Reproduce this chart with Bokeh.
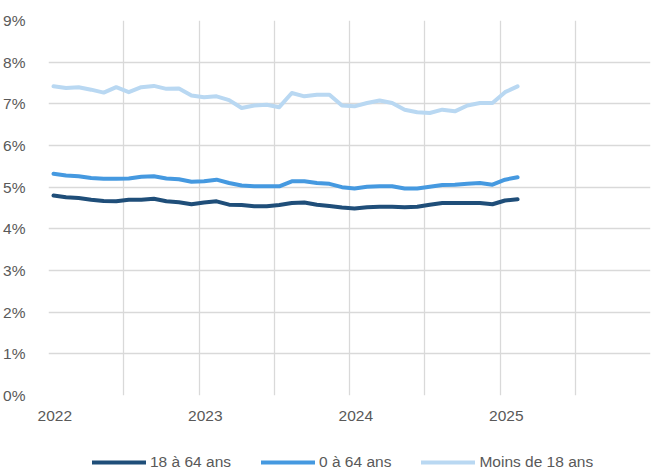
import numpy as np
from bokeh.plotting import figure
from bokeh.layouts import column
from bokeh.models import FixedTicker, Legend, LegendItem, Range1d
from bokeh.embed import file_html
from bokeh.resources import INLINE

# Monthly values, Jan 2022 .. Feb 2025 (in %)
series_names = ["18 à 64 ans", "0 à 64 ans", "Moins de 18 ans"]
adults_18_64 = [4.80, 4.76, 4.74, 4.70, 4.67, 4.66, 4.70, 4.70, 4.72, 4.66, 4.64, 4.59, 4.63,
                4.66, 4.58, 4.57, 4.54, 4.54, 4.57, 4.62, 4.63, 4.58, 4.55, 4.51, 4.49, 4.52,
                4.53, 4.53, 4.52, 4.53, 4.58, 4.62, 4.62, 4.62, 4.62, 4.59, 4.68, 4.71]
all_0_64 = [5.32, 5.28, 5.26, 5.22, 5.20, 5.20, 5.21, 5.25, 5.26, 5.21, 5.19, 5.13, 5.14,
            5.18, 5.10, 5.04, 5.02, 5.02, 5.02, 5.14, 5.14, 5.10, 5.08, 5.00, 4.97, 5.01,
            5.02, 5.02, 4.97, 4.97, 5.01, 5.05, 5.06, 5.08, 5.10, 5.06, 5.18, 5.24]
under_18 = [7.42, 7.38, 7.40, 7.34, 7.27, 7.40, 7.28, 7.40, 7.43, 7.36, 7.37, 7.20, 7.16,
            7.18, 7.09, 6.90, 6.96, 6.98, 6.92, 7.26, 7.18, 7.22, 7.22, 6.96, 6.94, 7.02,
            7.08, 7.02, 6.86, 6.80, 6.78, 6.86, 6.82, 6.96, 7.02, 7.02, 7.28, 7.42]
year_labels = ["2022", "2023", "2024", "2025"]
y_tick_values = list(range(0, 10))

colors = ["#1f4e79", "#4599e0", "#b9d8f2"]
font = "Liberation Sans"
font_size = "15.5px"
text_color = "#595959"
grid_color = "#d9d9d9"

series = [adults_18_64, all_0_64, under_18]
n = len(under_18)
x = np.arange(n) + 0.4  # mid-month positions, months since Jan 2022

p = figure(width=651, height=440, output_backend="svg", toolbar_location=None,
           min_border_left=48, min_border_right=1, min_border_top=20, min_border_bottom=45,
           x_range=Range1d(0, 48), y_range=Range1d(0, 9))
p.outline_line_color = None
p.background_fill_color = "white"
p.border_fill_color = "white"

for vals, c in zip(series, colors):
    p.line(x, vals, line_color=c, line_width=4, line_join="round", line_cap="round")

# grids
p.xgrid.ticker = FixedTicker(ticks=list(range(0, 49, 6)))
p.ygrid.ticker = FixedTicker(ticks=y_tick_values)
p.xgrid.grid_line_color = grid_color
p.ygrid.grid_line_color = grid_color
p.xgrid.grid_line_width = 1.3
p.ygrid.grid_line_width = 1.3

# x axis
xt = [12 * k + 0.5 for k in range(len(year_labels))]
p.xaxis.ticker = FixedTicker(ticks=xt)
p.xaxis.major_label_overrides = {t: lab for t, lab in zip(xt, year_labels)}
p.xaxis.axis_line_color = None
p.xaxis.major_tick_line_color = None
p.xaxis.minor_tick_line_color = None
p.xaxis.major_label_standoff = 9
p.xaxis.major_label_text_font = font
p.xaxis.major_label_text_font_size = font_size
p.xaxis.major_label_text_color = text_color

# y axis
p.yaxis.ticker = FixedTicker(ticks=y_tick_values)
p.yaxis.major_label_overrides = {v: f"{v}%" for v in y_tick_values}
p.yaxis.axis_line_color = None
p.yaxis.major_tick_line_color = None
p.yaxis.minor_tick_line_color = None
p.yaxis.major_label_standoff = 17
p.yaxis.major_label_text_font = font
p.yaxis.major_label_text_font_size = font_size
p.yaxis.major_label_text_color = text_color

# legend strip (series drawn out of view; only the legend shows)
lg = figure(width=651, height=30, output_backend="svg", toolbar_location=None,
            min_border=0, x_axis_type=None, y_axis_type=None,
            x_range=Range1d(0, 48), y_range=Range1d(100, 101))
lg.outline_line_color = None
lg.xgrid.visible = False
lg.ygrid.visible = False
items = []
for nm, vals, c in zip(series_names, series, colors):
    r = lg.line(x, vals, line_color=c, line_width=4, line_cap="round")
    items.append(LegendItem(label=nm, renderers=[r]))
legend = Legend(items=items, orientation="horizontal", location=(44, -1),
                padding=0, margin=0, spacing=30, label_standoff=4,
                glyph_width=54, glyph_height=14, label_height=14,
                label_text_font=font, label_text_font_size=font_size, label_text_color=text_color,
                border_line_color=None, background_fill_alpha=0)
lg.add_layout(legend, "center")

layout = column(p, lg, spacing=0)
open("out.html", "w").write(file_html(layout, INLINE))
